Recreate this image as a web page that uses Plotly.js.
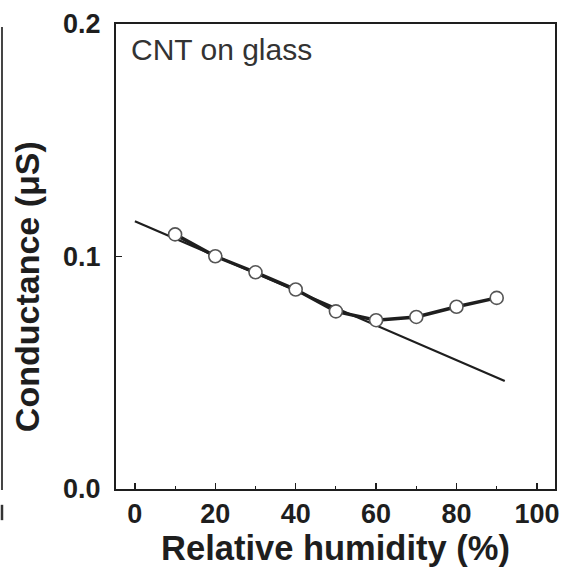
<!DOCTYPE html>
<html>
<head>
<meta charset="utf-8">
<script src="https://cdn.plot.ly/plotly-3.0.1.min.js"></script>
<style>html,body{margin:0;padding:0;background:#fff;}#chart{width:564px;height:571px;}</style>
</head>
<body>
<div id="chart"></div>
<script>
// Measured data (open circles)
var humidity = [10, 20, 30, 40, 50, 60, 70, 80, 90];
var conductance = [0.1095, 0.1001, 0.0932, 0.0858, 0.0764, 0.0726, 0.0740, 0.0784, 0.0822];
// Linear fit line endpoints
var fitX = [0, 92];
var fitY = [0.1152, 0.0465];
// Tick labels
var xTicks = [0, 20, 40, 60, 80, 100];
var yTicks = [0.0, 0.1, 0.2];
var yTickText = ["0.0", "0.1", "0.2"];

var FONT = "Liberation Sans, Arial, sans-serif";
var INK = "#1e1e1e";

var traces = [
  {
    x: fitX, y: fitY, mode: "lines", type: "scatter",
    line: {color: INK, width: 2.2}, hoverinfo: "skip", showlegend: false
  },
  {
    x: humidity, y: conductance, mode: "lines+markers", type: "scatter",
    line: {color: INK, width: 3.5},
    marker: {symbol: "circle", size: 13, color: "#ffffff", line: {color: "#555", width: 1.6}},
    showlegend: false
  }
];

var layout = {
  width: 564, height: 571,
  margin: {l: 116, r: 9, t: 24, b: 82},
  paper_bgcolor: "#fff", plot_bgcolor: "#fff",
  showlegend: false,
  font: {family: FONT, color: INK},
  xaxis: {
    range: [-4.7, 104.5],
    tickmode: "array", tickvals: xTicks,
    ticks: "inside", ticklen: 6, tickwidth: 1.5, tickcolor: INK,
    minor: {dtick: 10, tick0: 0, ticks: "inside", ticklen: 3, tickwidth: 1.2, tickcolor: INK},
    showline: true, linecolor: INK, linewidth: 2, mirror: true,
    showgrid: false, zeroline: false,
    tickfont: {family: FONT, size: 27, color: INK, weight: "bold"},
    title: {text: "Relative humidity (%)", font: {family: FONT, size: 34.5, color: INK, weight: "bold"}, standoff: 7}
  },
  yaxis: {
    range: [0, 0.2],
    tickmode: "array", tickvals: yTicks, ticktext: yTickText,
    ticks: "inside", ticklen: 6, tickwidth: 1.5, tickcolor: INK,
    ticklabelstandoff: 8,
    showline: true, linecolor: INK, linewidth: 2, mirror: true,
    showgrid: false, zeroline: false,
    tickfont: {family: FONT, size: 27, color: INK, weight: "bold"}
  },
  annotations: [
    {
      text: "CNT on glass", xref: "paper", yref: "paper",
      x: 0.03, y: 0.985, xanchor: "left", yanchor: "top", showarrow: false,
      font: {family: FONT, size: 30, color: "#333"}
    },
    {
      text: "<b>Conductance (\u03bcS)</b>", xref: "paper", yref: "paper",
      x: -0.203, y: 0.436, xanchor: "center", yanchor: "middle", showarrow: false,
      textangle: -90,
      font: {family: FONT, size: 34, color: INK}
    }
  ],
  shapes: [
    {type: "line", xref: "paper", yref: "paper", x0: -0.2597, x1: -0.2597, y0: 0.9935, y1: -0.002,
     line: {color: "#444", width: 2}},
    {type: "line", xref: "paper", yref: "paper", x0: -0.2597, x1: -0.2597, y0: -0.034, y1: -0.067,
     line: {color: "#333", width: 2.5}}
  ]
};

Plotly.newPlot("chart", traces, layout, {displayModeBar: false, staticPlot: true});
</script>
</body>
</html>
